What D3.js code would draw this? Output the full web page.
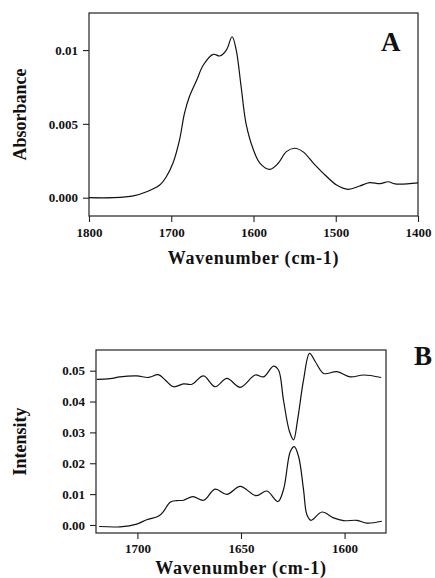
<!DOCTYPE html>
<html><head><meta charset="utf-8">
<script src="https://cdn.jsdelivr.net/npm/d3@7"></script>
<style>body{margin:0;background:#fff}svg{display:block}</style>
</head><body>
<script>
// Panel A: absorbance spectrum
const aWavenumber = [1800,1771,1746,1730,1714,1706,1698,1690,1684,1678,1669,1661,1649,1641,1633,1626,1621,1615,1609,1600,1592,1580,1570,1560,1550,1540,1527,1513,1499,1485,1471,1459,1446,1436,1428,1400];
const aAbsorbance = [0.0000,0.0000,0.00012,0.0004,0.00086,0.00142,0.00233,0.0039,0.0057,0.00684,0.00797,0.00899,0.00971,0.0096,0.0100,0.0109,0.0100,0.0075,0.0050,0.00323,0.00233,0.00192,0.00233,0.00312,0.00335,0.00312,0.00233,0.00154,0.00086,0.00057,0.00079,0.00102,0.00095,0.00108,0.00093,0.0010];
const aXTicks = [1800,1700,1600,1500,1400];
const aYTicks = [0.000,0.005,0.01];
const aYTickLabels = ["0.000","0.005","0.01"];

// Panel B: upper and lower traces
const bUpperX = [1719.6,1713.2,1708.4,1700.3,1694.7,1689.9,1686.6,1682.6,1677.8,1673.7,1668.1,1662.5,1656.8,1650.4,1643.1,1639.1,1634.3,1631.9,1629.5,1626.6,1624.6,1622.7,1619.8,1616.9,1614.1,1610.1,1603.7,1597.3,1590.8,1582.3];
const bUpperY = [0.0472,0.0474,0.0480,0.0483,0.0478,0.0487,0.0470,0.0448,0.0457,0.0456,0.0483,0.0448,0.0475,0.0446,0.0486,0.0480,0.0515,0.0502,0.0405,0.0303,0.0276,0.0340,0.0470,0.0556,0.0529,0.0491,0.0497,0.0480,0.0486,0.0478];
const bLowerX = [1718.5,1708.4,1700.3,1695.5,1689.9,1687.4,1684.2,1681,1677.8,1673.2,1668.1,1662.5,1656.8,1650.4,1642.7,1637.5,1632.2,1629.5,1626.2,1624.3,1622.2,1619.8,1618.2,1616.2,1610.9,1605.3,1600.5,1594,1589.2,1582];
const bLowerY = [-0.0005,-0.0006,0.0003,0.0017,0.0028,0.0044,0.0074,0.0079,0.0080,0.0092,0.0080,0.0116,0.0099,0.0125,0.0095,0.0110,0.0076,0.0114,0.0238,0.0254,0.0222,0.0114,0.0033,0.0015,0.0042,0.0023,0.0014,0.0015,0.0006,0.0012];
const bXTicks = [1700,1650,1600];
const bYTicks = [0.00,0.01,0.02,0.03,0.04,0.05];
const bYTickLabels = ["0.00","0.01","0.02","0.03","0.04","0.05"];

const W = 435, H = 578;
const font = "'Liberation Serif','DejaVu Serif',serif";
const svg = d3.select("body").append("svg").attr("width", W).attr("height", H);

function panel(opts) {
  const {x0,x1,y0,y1,xDom,yDom,xTicks,yTicks,yLabels,series,yTitle,yTitleX,xTitleY,xTickY,letter,letterX,letterY} = opts;
  const x = d3.scaleLinear().domain(xDom).range([x0,x1]);
  const y = d3.scaleLinear().domain(yDom).range([y1,y0]);
  const g = svg.append("g");
  g.append("rect").attr("x",x0).attr("y",y0).attr("width",x1-x0).attr("height",y1-y0)
    .attr("fill","none").attr("stroke","#222").attr("stroke-width",1.2);
  const ya = g.append("g").attr("transform",`translate(${x0},0)`)
    .call(d3.axisLeft(y).tickValues(yTicks).tickSize(6).tickPadding(5).tickFormat((d,i)=>yLabels[i]));
  const xa = g.append("g").attr("transform",`translate(0,${y1})`)
    .call(d3.axisBottom(x).tickValues(xTicks).tickSize(6).tickPadding(xTickY).tickFormat(d3.format("d")));
  [ya,xa].forEach(a=>{
    a.select(".domain").remove();
    a.selectAll("line").attr("stroke","#222").attr("stroke-width",1.1);
    a.selectAll("text").attr("font-family",font).attr("font-size",13).attr("font-weight","bold").attr("fill","#111");
  });
  const line = d3.line().x(d=>x(d[0])).y(d=>y(d[1])).curve(d3.curveCatmullRom.alpha(0.5));
  series.forEach(s=>{
    g.append("path").datum(s).attr("d",line).attr("fill","none").attr("stroke","#111").attr("stroke-width",1.2);
  });
  g.append("text").attr("transform",`translate(${yTitleX},${(y0+y1)/2}) rotate(-90)`)
    .attr("text-anchor","middle").attr("dominant-baseline","middle")
    .attr("font-family",font).attr("font-size",18).attr("font-weight","bold").attr("fill","#111").text(yTitle);
  g.append("text").attr("x",(x0+x1)/2).attr("y",xTitleY).attr("text-anchor","middle")
    .attr("font-family",font).attr("font-size",18).attr("font-weight","bold").attr("fill","#111").attr("letter-spacing",0.8)
    .text("Wavenumber (cm-1)");
  g.append("text").attr("x",letterX).attr("y",letterY).attr("font-family",font).attr("font-size",27)
    .attr("font-weight","bold").attr("fill","#111").text(letter);
}

panel({
  x0:89, x1:418, y0:13, y1:216,
  xDom:[1800,1400], yDom:[-0.00124,0.01251],
  xTicks:aXTicks, yTicks:aYTicks, yLabels:aYTickLabels,
  series:[aWavenumber.map((v,i)=>[v,aAbsorbance[i]])],
  yTitle:"Absorbance", yTitleX:22, xTitleY:264, xTickY:6,
  letter:"A", letterX:381, letterY:51
});

panel({
  x0:96, x1:386, y0:350, y1:533,
  xDom:[1720,1580], yDom:[-0.0026,0.0567],
  xTicks:bXTicks, yTicks:bYTicks, yLabels:bYTickLabels,
  series:[bUpperX.map((v,i)=>[v,bUpperY[i]]), bLowerX.map((v,i)=>[v,bLowerY[i]])],
  yTitle:"Intensity", yTitleX:22, xTitleY:574, xTickY:5,
  letter:"B", letterX:414, letterY:365
});
</script>
</body></html>
